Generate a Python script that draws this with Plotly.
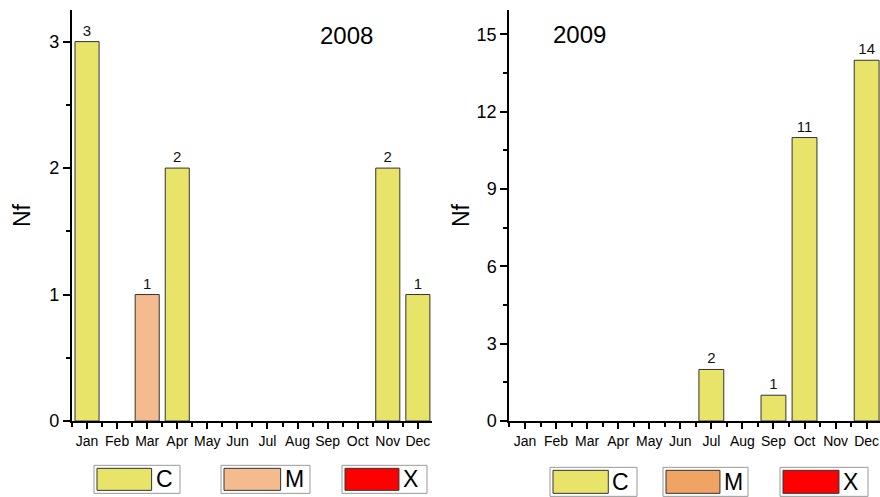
import plotly.graph_objects as go

# ---- data ----
months = ["Jan", "Feb", "Mar", "Apr", "May", "Jun", "Jul", "Aug", "Sep", "Oct", "Nov", "Dec"]
month_pos = list(range(1, 13))
c_2008 = [3, 0, 0, 2, 0, 0, 0, 0, 0, 0, 2, 1]
m_2008 = [0, 0, 1, 0, 0, 0, 0, 0, 0, 0, 0, 0]
x_2008 = [0, 0, 0, 0, 0, 0, 0, 0, 0, 0, 0, 0]
c_2009 = [0, 0, 0, 0, 0, 0, 2, 0, 1, 11, 0, 14]
m_2009 = [0, 0, 0, 0, 0, 0, 0, 0, 0, 0, 0, 0]
x_2009 = [0, 0, 0, 0, 0, 0, 0, 0, 0, 0, 0, 0]
series_names = ["C", "M", "X"]

W, H = 880, 497
MT = 10
MB = H - 420.7
PLOT_H = H - MT - MB

C_COL = "#E8E46A"
M_COL_08 = "#F4BC8E"
M_COL_09 = "#EFA464"
X_COL = "#FF0000"
FONT = "Liberation Sans, Arial, sans-serif"

fig = go.Figure()


def add_bars(vals, color, xa, ya, name):
    fig.add_trace(go.Bar(
        x=month_pos, y=[v if v > 0 else None for v in vals], name=name, xaxis=xa, yaxis=ya,
        marker=dict(color=color, line=dict(color="#333333", width=1)),
        width=0.8,
        text=[str(v) if v > 0 else "" for v in vals],
        textposition="outside", cliponaxis=False, constraintext="none",
        textfont=dict(size=15, color="#111111", family=FONT),
        showlegend=False,
    ))


add_bars(c_2008, C_COL, "x", "y", "C")
add_bars(m_2008, M_COL_08, "x", "y", "M")
add_bars(x_2008, X_COL, "x", "y", "X")
add_bars(c_2009, C_COL, "x2", "y2", "C")
add_bars(m_2009, M_COL_09, "x2", "y2", "M")
add_bars(x_2009, X_COL, "x2", "y2", "X")

xcommon = dict(
    tickmode="array", tickvals=month_pos, ticktext=months,
    ticks="outside", ticklen=6, tickwidth=1.5, tickcolor="black",
    showline=True, linecolor="black", linewidth=1.5,
    showgrid=False, zeroline=False,
    tickfont=dict(size=14, family=FONT, color="black"),
    minor=dict(tick0=0.5, dtick=1, ticks="outside", ticklen=4, tickwidth=1.5, tickcolor="black", showgrid=False),
)
ycommon = dict(
    ticks="outside", ticklen=7, tickwidth=1.5, tickcolor="black",
    showline=True, linecolor="black", linewidth=1.5,
    showgrid=False, zeroline=False,
    tickfont=dict(size=18, family=FONT, color="black"),
)
ytitle_font = dict(size=23, family=FONT, color="black")


def px(xs):
    return xs / W


def py(ys):
    return (H - MB - ys) / PLOT_H


fig.update_layout(
    width=W, height=H,
    margin=dict(l=0, r=0, t=MT, b=MB),
    paper_bgcolor="white", plot_bgcolor="white",
    barmode="overlay",
    font=dict(family=FONT),
    xaxis=dict(domain=[px(71.7), px(432)], range=[0.49, 12.47], anchor="y", **xcommon),
    yaxis=dict(range=[0, 3.25], dtick=1, tick0=0, anchor="x",
               minor=dict(dtick=0.5, tick0=0, ticks="outside", ticklen=4, tickwidth=1.5, tickcolor="black"),
               title=dict(text="Nf", font=ytitle_font, standoff=12),
               **ycommon),
    xaxis2=dict(domain=[px(509), 1.0], range=[0.485, 12.43], anchor="y2", **xcommon),
    yaxis2=dict(range=[0, 15.95], dtick=3, tick0=0, anchor="x2",
                minor=dict(dtick=1.5, tick0=0, ticks="outside", ticklen=4, tickwidth=1.5, tickcolor="black"),
                title=dict(text="Nf", font=ytitle_font, standoff=1),
                **ycommon),
)

# titles
fig.add_annotation(text="2008", x=px(346), y=py(35), xref="paper", yref="paper",
                   xanchor="center", yanchor="middle",
                   showarrow=False, font=dict(size=24, family=FONT, color="black"))
fig.add_annotation(text="2009", x=px(579), y=py(34), xref="paper", yref="paper",
                   xanchor="center", yanchor="middle",
                   showarrow=False, font=dict(size=24, family=FONT, color="black"))

# legend boxes
legend_specs = [
    (94, 180, 465, 493, C_COL, series_names[0]),
    (221, 310, 465, 493, M_COL_08, series_names[1]),
    (342, 427, 465, 493, X_COL, series_names[2]),
    (550, 637, 467, 496, C_COL, series_names[0]),
    (663, 748, 467, 496, M_COL_09, series_names[1]),
    (780, 868, 467, 496, X_COL, series_names[2]),
]
for x0, x1, y0, y1, col, nm in legend_specs:
    fig.add_shape(type="rect", xref="paper", yref="paper",
                  x0=px(x0), x1=px(x1), y0=py(y0), y1=py(y1),
                  line=dict(color="#999999", width=1), fillcolor="white")
    sw_x1 = x0 + (x1 - x0) * 0.67
    fig.add_shape(type="rect", xref="paper", yref="paper",
                  x0=px(x0 + 3), x1=px(sw_x1), y0=py(y0 + 3), y1=py(y1 - 3),
                  line=dict(color="#333333", width=1), fillcolor=col)
    fig.add_annotation(text=nm, x=px(sw_x1 + 2), y=py((y0 + y1) / 2), xref="paper", yref="paper",
                       xanchor="left", yanchor="middle", showarrow=False,
                       font=dict(size=23, family=FONT, color="black"))

fig.write_html(
    "out.html",
    config={"displayModeBar": False},
    post_script="document.body.style.margin='0';document.body.style.overflow='hidden';",
)
